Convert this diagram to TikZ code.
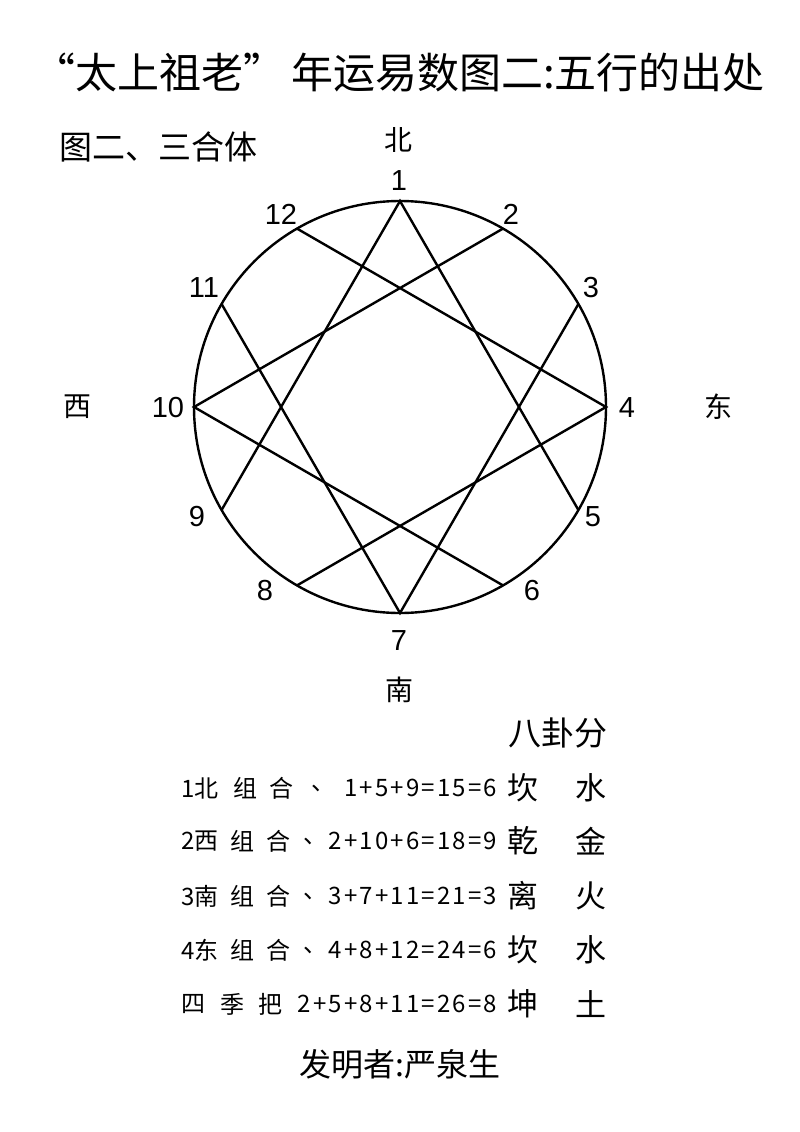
\documentclass[tikz,border=0pt]{standalone}
\usepackage{fontspec}
\setmainfont{Noto Sans CJK SC}
\newfontfamily\arialf{Liberation Sans}
\begin{document}
\begin{tikzpicture}[x=1pt,y=-1pt,
  lbl/.style={inner sep=0pt,font=\arialf\fontsize{29}{29}\selectfont},
  dirl/.style={inner sep=0pt,font=\fontsize{28}{28}\selectfont},
  small/.style={inner sep=0pt,font=\fontsize{24}{24}\selectfont},
  expr/.style={inner sep=0pt,anchor=east,font=\addfontfeature{LetterSpace=9}\fontsize{24}{24}\selectfont},
  big/.style={inner sep=0pt,font=\fontsize{31}{31}\selectfont},
  chord/.style={line width=2.4pt}]
\useasboundingbox[fill=white] (0,0) rectangle (800,1132);
% title
\node[inner sep=0pt,anchor=west,font=\fontsize{42}{42}\selectfont] (title) at (33,72) {“太上祖老”\hspace{6pt}年运易数图二:五行的出处};
\node[inner sep=0pt,anchor=west,font=\fontsize{33}{33}\selectfont] (sub) at (59,147) {图二、三合体};
% circle
\coordinate (c) at (400,407);
\foreach \i in {1,...,12}{
  \coordinate (p\i) at ({400+206*sin(30*(\i-1))},{407-206*cos(30*(\i-1))});
}
\draw[chord] (c) circle[radius=206pt];
\draw[chord] (p9) -- (p1) -- (p5);
\draw[chord] (p11) -- (p7) -- (p3);
\draw[chord] (p2) -- (p10) -- (p6);
\draw[chord] (p12) -- (p4) -- (p8);
% numbers
\node[lbl] (n1) at (399,181) {1};
\node[lbl] (n2) at (511,214) {2};
\node[lbl] (n3) at (591,288) {3};
\node[lbl] (n4) at (627,408) {4};
\node[lbl] (n5) at (593,517) {5};
\node[lbl] (n6) at (532,591) {6};
\node[lbl] (n7) at (399,641) {7};
\node[lbl] (n8) at (265,591) {8};
\node[lbl] (n9) at (197,517) {9};
\node[lbl] (n10) at (168,408) {10};
\node[lbl] (n11) at (204,288) {11};
\node[lbl] (n12) at (281,214) {12};
% directions
\node[dirl] (north) at (398,140) {北};
\node[dirl] (south) at (399,690) {南};
\node[dirl] (west) at (77,407) {西};
\node[dirl] (east) at (718,407) {东};
% table
\node[inner sep=0pt,font=\fontsize{33}{33}\selectfont] (bagua) at (558,733) {八卦分};
\node[small,anchor=west] (r1a) at (181,788) {1北};
\node[small] (r1b) at (245,788) {组};
\node[small] (r1c) at (281,788) {合};
\node[small] (r1d) at (323,788) {、};
\node[expr] (r1e) at (497,788) {1+5+9=15=6};
\node[big] (r1f) at (523,788) {坎};
\node[big] (r1g) at (591,788) {水};
\node[small,anchor=west] (r2a) at (181,841) {2西};
\node[small] (r2b) at (242,841) {组};
\node[small] (r2c) at (278,841) {合};
\node[small] (r2d) at (315,841) {、};
\node[expr] (r2e) at (497,841) {2+10+6=18=9};
\node[big] (r2f) at (523,841) {乾};
\node[big] (r2g) at (591,841) {金};
\node[small,anchor=west] (r3a) at (181,896) {3南};
\node[small] (r3b) at (242,896) {组};
\node[small] (r3c) at (278,896) {合};
\node[small] (r3d) at (315,896) {、};
\node[expr] (r3e) at (497,896) {3+7+11=21=3};
\node[big] (r3f) at (523,896) {离};
\node[big] (r3g) at (591,896) {火};
\node[small,anchor=west] (r4a) at (181,950) {4东};
\node[small] (r4b) at (242,950) {组};
\node[small] (r4c) at (278,950) {合};
\node[small] (r4d) at (315,950) {、};
\node[expr] (r4e) at (497,950) {4+8+12=24=6};
\node[big] (r4f) at (523,950) {坎};
\node[big] (r4g) at (591,950) {水};
\node[small] (r5a) at (193,1004) {四};
\node[small] (r5b) at (232,1004) {季};
\node[small] (r5c) at (270,1004) {把};
\node[expr] (r5e) at (497,1004) {2+5+8+11=26=8};
\node[big] (r5f) at (523,1004) {坤};
\node[big] (r5g) at (591,1004) {土};
% author
\node[inner sep=0pt,font=\fontsize{32}{32}\selectfont] (author) at (400,1064) {发明者:严泉生};
\end{tikzpicture}
\end{document}
